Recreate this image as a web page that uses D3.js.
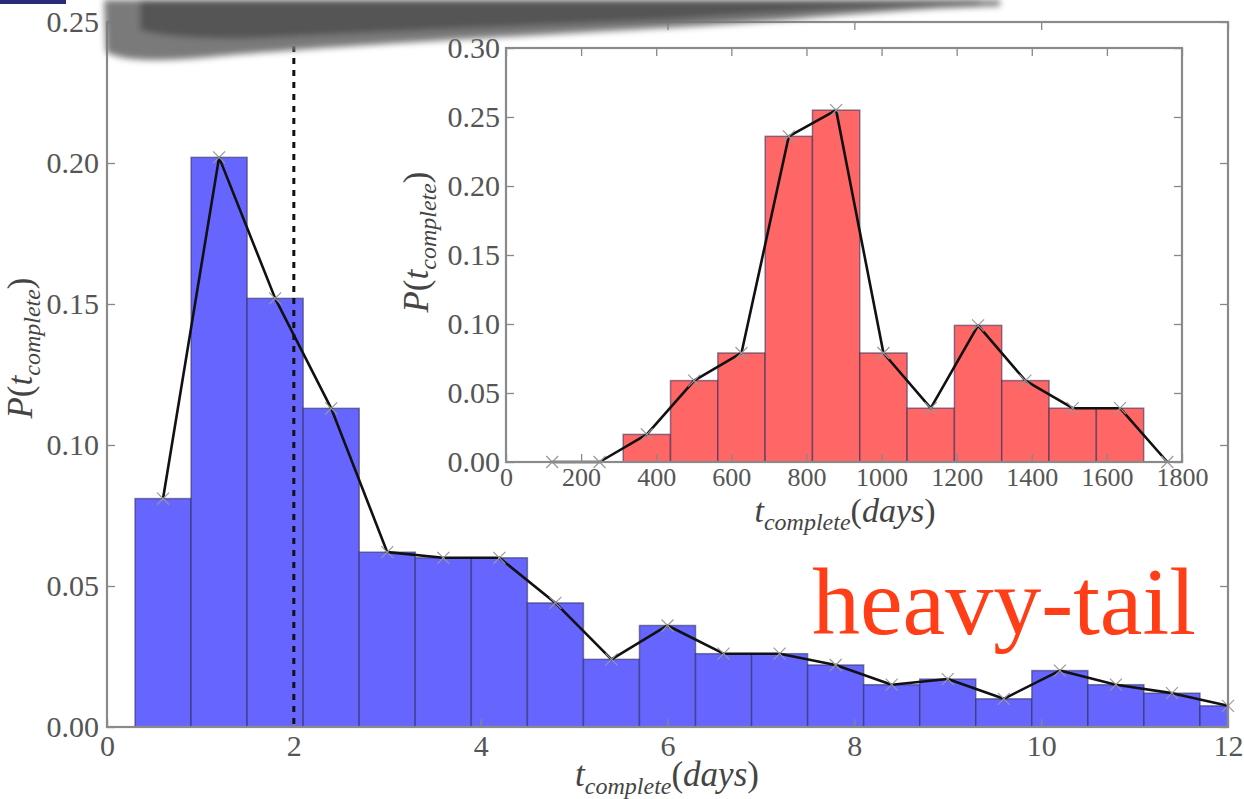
<!DOCTYPE html>
<html>
<head>
<meta charset="utf-8">
<script src="https://cdn.jsdelivr.net/npm/d3@7"></script>
<style>
  body { margin: 0; background: #fff; }
  svg { display: block; }
</style>
</head>
<body>
<div id="chart"></div>
<script>
// main histogram: bin centres (days) and probabilities
var mainCenters = [0.6, 1.2, 1.8, 2.4, 3.0, 3.6, 4.2, 4.8, 5.4, 6.0,
                   6.6, 7.2, 7.8, 8.4, 9.0, 9.6, 10.2, 10.8, 11.4, 12.0];
var mainValues = [0.081, 0.202, 0.152, 0.113, 0.062, 0.060, 0.060, 0.044, 0.024, 0.036,
                  0.026, 0.026, 0.022, 0.015, 0.017, 0.010, 0.020, 0.015, 0.012, 0.0075];
var mainBinWidth = 0.6;
var mainXTicks = [0, 2, 4, 6, 8, 10, 12];
var mainYTicks = [0, 0.05, 0.10, 0.15, 0.20, 0.25];
var markerX = 2.0;

// inset histogram
var insetCenters = [123, 249, 375, 501, 627, 753, 879, 1005, 1131, 1257, 1383, 1509, 1635, 1761];
var insetValues = [0, 0, 0.020, 0.059, 0.079, 0.236, 0.255, 0.079, 0.039, 0.099, 0.059, 0.039, 0.039, 0];
var insetBinWidth = 126;
var insetXTicks = [0, 200, 400, 600, 800, 1000, 1200, 1400, 1600, 1800];
var insetYTicks = [0, 0.05, 0.10, 0.15, 0.20, 0.25, 0.30];

var width = 1244,
    height = 799;

var svg = d3.select('#chart').append('svg')
  .attr('width', width)
  .attr('height', height);

var defs = svg.append('defs');
defs.append('filter').attr('id', 'smear')
  .append('feGaussianBlur').attr('stdDeviation', 3);
defs.append('clipPath').attr('id', 'mainClip')
  .append('rect').attr('x', 107).attr('y', 22).attr('width', 1121).attr('height', 705);

var tickFont = '"Liberation Serif", "DejaVu Serif", serif';

function drawPanel(g, opt) {
  var x = opt.x, y = opt.y;
  var x0 = x.range()[0], x1 = x.range()[1];
  var y0 = y.range()[0], y1 = y.range()[1];

  g.append('rect')
    .attr('x', x0).attr('y', y1)
    .attr('width', x1 - x0).attr('height', y0 - y1)
    .style('fill', 'white');

  var bars = g.append('g').attr('clip-path', opt.clip || null);
  bars.selectAll('rect').data(opt.centers.filter(function(d, i) { return opt.values[i] > 0; }))
    .enter().append('rect')
      .attr('x', function(d) { return x(d - opt.binWidth / 2); })
      .attr('width', function(d) { return x(d + opt.binWidth / 2) - x(d - opt.binWidth / 2); })
      .attr('y', function(d) { return y(opt.values[opt.centers.indexOf(d)]); })
      .attr('height', function(d) { return y0 - y(opt.values[opt.centers.indexOf(d)]); })
      .style('fill', opt.fill)
      .style('stroke', '#2a2a55')
      .style('stroke-opacity', 0.55)
      .style('stroke-width', 1.5);

  var pts = opt.centers.map(function(d, i) { return [d, opt.values[i]]; });

  var line = d3.line()
    .x(function(d) { return x(d[0]); })
    .y(function(d) { return y(d[1]); });

  g.append('path')
    .datum(pts)
    .attr('d', line)
    .style('fill', 'none')
    .style('stroke', '#111')
    .style('stroke-width', 2.6)
    .style('stroke-linejoin', 'round');

  g.selectAll('.cross').data(pts)
    .enter().append('path')
      .attr('class', 'cross')
      .attr('d', function(d) {
        var cx = x(d[0]), cy = y(d[1]), s = 6;
        return 'M' + (cx - s) + ',' + (cy - s) + 'L' + (cx + s) + ',' + (cy + s) +
               'M' + (cx - s) + ',' + (cy + s) + 'L' + (cx + s) + ',' + (cy - s);
      })
      .style('stroke', '#999')
      .style('stroke-width', 1.2);

  // inward ticks on all four sides
  var fmtY = d3.format('.2f');
  var left = g.append('g').attr('transform', 'translate(' + x0 + ',0)')
    .call(d3.axisLeft(y).tickValues(opt.yTicks).tickFormat(fmtY)
      .tickSizeInner(-8).tickSizeOuter(0).tickPadding(opt.yPad));
  var right = g.append('g').attr('transform', 'translate(' + x1 + ',0)')
    .call(d3.axisRight(y).tickValues(opt.yTicks).tickFormat('')
      .tickSizeInner(-8).tickSizeOuter(0));
  var bottom = g.append('g').attr('transform', 'translate(0,' + y0 + ')')
    .call(d3.axisBottom(x).tickValues(opt.xTicks).tickFormat(d3.format('d'))
      .tickSizeInner(-8).tickSizeOuter(0).tickPadding(opt.xPad));
  var top = g.append('g').attr('transform', 'translate(0,' + y1 + ')')
    .call(d3.axisTop(x).tickValues(opt.xTicks).tickFormat('')
      .tickSizeInner(-8).tickSizeOuter(0));

  [left, right, bottom, top].forEach(function(a) {
    a.select('.domain').remove();
    a.selectAll('line').style('stroke', '#888').style('stroke-width', 1.3);
    a.selectAll('text')
      .style('font-family', tickFont)
      .style('font-size', opt.fontSize + 'px')
      .style('fill', '#555');
  });
  bottom.selectAll('text').style('font-size', opt.xFontSize + 'px');

  g.append('rect')
    .attr('x', x0).attr('y', y1)
    .attr('width', x1 - x0).attr('height', y0 - y1)
    .style('fill', 'none')
    .style('stroke', '#8a8a8a')
    .style('stroke-width', 2.2);
}

function mathLabel(g, tx, ty, rotate, size) {
  var t = g.append('text')
    .attr('transform', 'translate(' + tx + ',' + ty + ')' + (rotate ? ' rotate(-90)' : ''))
    .attr('text-anchor', 'middle')
    .style('font-family', tickFont)
    .style('fill', '#444')
    .style('font-size', size + 'px');
  t.append('tspan').style('font-style', 'italic').text(rotate ? 'P' : 't');
  return t;
}

function labelBody(t, withDays) {
  if (withDays) {
    t.append('tspan').style('font-style', 'italic').style('font-size', '24px').attr('dy', 8).text('complete');
    t.append('tspan').attr('dy', -8).text('(');
    t.append('tspan').style('font-style', 'italic').text('days');
    t.append('tspan').text(')');
  } else {
    t.append('tspan').text('(');
    t.append('tspan').style('font-style', 'italic').text('t');
    t.append('tspan').style('font-style', 'italic').style('font-size', '24px').attr('dy', 8).text('complete');
    t.append('tspan').attr('dy', -8).text(')');
  }
}

// ----- main panel -----
var xMain = d3.scaleLinear().domain([0, 12]).range([107, 1228]);
var yMain = d3.scaleLinear().domain([0, 0.25]).range([727, 22]);

var mainG = svg.append('g');
drawPanel(mainG, {
  x: xMain, y: yMain, centers: mainCenters, values: mainValues, binWidth: mainBinWidth,
  xTicks: mainXTicks, yTicks: mainYTicks, fill: 'rgb(102,102,255)', clip: 'url(#mainClip)',
  xPad: 8, yPad: 8, fontSize: 30, xFontSize: 30
});

mainG.append('line')
  .attr('x1', xMain(markerX)).attr('x2', xMain(markerX))
  .attr('y1', yMain(0.25)).attr('y2', yMain(0))
  .style('stroke', '#111')
  .style('stroke-width', 3)
  .style('stroke-dasharray', '6,6');

// main axis labels
labelBody(mathLabel(svg, 667, 786, false, 35), true);
labelBody(mathLabel(svg, 32, 348, true, 35), false);

// ----- inset panel -----
var xIn = d3.scaleLinear().domain([0, 1800]).range([506, 1182]);
var yIn = d3.scaleLinear().domain([0, 0.30]).range([462, 48]);

var insetG = svg.append('g');
drawPanel(insetG, {
  x: xIn, y: yIn, centers: insetCenters, values: insetValues, binWidth: insetBinWidth,
  xTicks: insetXTicks, yTicks: insetYTicks, fill: 'rgb(255,102,102)',
  xPad: 6, yPad: 6, fontSize: 30, xFontSize: 26
});

labelBody(mathLabel(svg, 845, 522, false, 34), true);
labelBody(mathLabel(svg, 428, 242, true, 35), false);

// annotation
svg.append('text')
  .attr('x', 812).attr('y', 634)
  .style('font-family', '"Liberation Serif", "Times New Roman", serif')
  .style('font-size', '96px')
  .style('fill', '#ff3d17')
  .text('heavy-tail');

// smudge across the top of the photographed slide
var smear = svg.append('g').attr('filter', 'url(#smear)');
smear.append('path')
  .attr('d', 'M104,0 L1000,0 L1000,6 C900,8 800,20 700,26 C560,34 360,44 220,56 C160,62 125,62 106,52 Z')
  .style('fill', '#7a7a7a');
smear.append('path')
  .attr('d', 'M140,0 L980,0 L980,4 C860,6 760,14 660,20 C520,26 380,32 260,38 C200,40 160,36 140,30 Z')
  .style('fill', '#555');
svg.append('rect').attr('x', 0).attr('y', 0).attr('width', 66).attr('height', 4).style('fill', '#2a2a7a');
</script>
</body>
</html>
